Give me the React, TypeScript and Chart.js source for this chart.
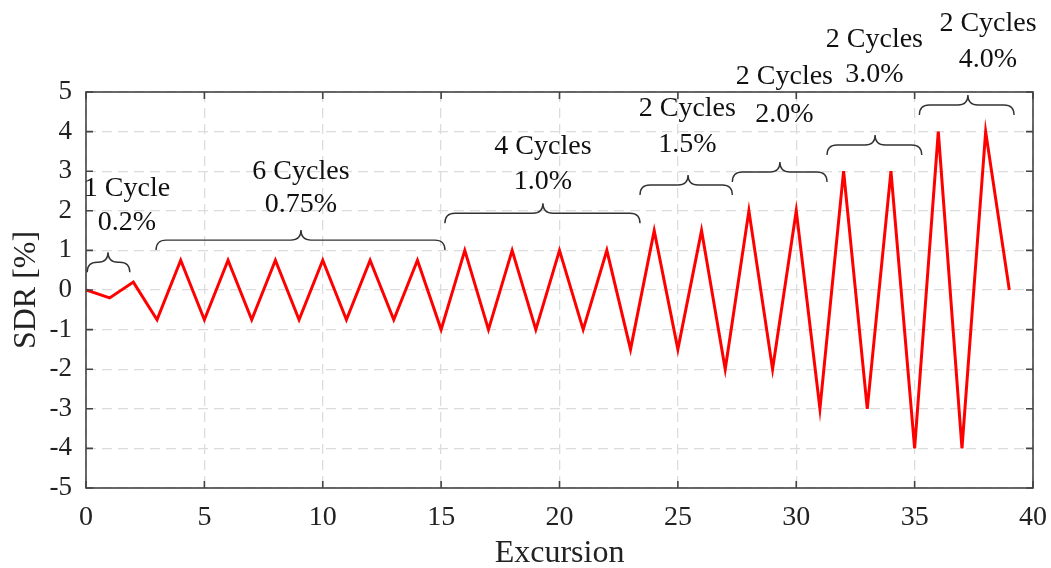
import React, { useEffect, useRef } from "react";
import { Chart, registerables } from "chart.js";

Chart.register(...registerables);

// ---- data ----
const excursion = [
  0, 1, 2, 3, 4, 5, 6, 7, 8, 9, 10, 11, 12, 13, 14, 15, 16, 17, 18, 19,
  20, 21, 22, 23, 24, 25, 26, 27, 28, 29, 30, 31, 32, 33, 34, 35, 36, 37, 38, 39,
];
const sdr = [
  0, -0.2, 0.2, -0.75, 0.75, -0.75, 0.75, -0.75, 0.75, -0.75, 0.75, -0.75, 0.75, -0.75, 0.75,
  -1, 1, -1, 1, -1, 1, -1, 1, -1.5, 1.5, -1.5, 1.5, -2, 2, -2, 2, -3, 3, -3, 3, -4, 4, -4, 4, 0,
];
const xTickValues = [0, 5, 10, 15, 20, 25, 30, 35, 40];
const yTickValues = [-5, -4, -3, -2, -1, 0, 1, 2, 3, 4, 5];

// brace annotations (data coordinates)
const braceStart = [0.05, 2.96, 15.16, 23.4, 27.3, 31.3, 35.2];
const braceEnd = [1.85, 15.16, 23.4, 27.3, 31.3, 35.3, 39.2];
const braceTip = [0.93, 9.08, 19.3, 25.43, 29.31, 33.33, 37.25];
const braceLevel = [0.7, 1.26, 1.94, 2.65, 2.98, 3.66, 4.67];
const labelTop = ["1 Cycle", "6 Cycles", "4 Cycles", "2 Cycles", "2 Cycles", "2 Cycles", "2 Cycles"];
const labelBottom = ["0.2%", "0.75%", "1.0%", "1.5%", "2.0%", "3.0%", "4.0%"];
const labelX = [1.73, 9.08, 19.3, 25.4, 29.5, 33.3, 38.1];
const labelYTop = [2.55, 2.98, 3.61, 4.57, 5.38, 6.31, 6.72];
const labelYBottom = [1.69, 2.15, 2.73, 3.66, 4.42, 5.43, 5.81];

const FONT = "'Liberation Serif', 'Times New Roman', serif";

function drawBrace(ctx: CanvasRenderingContext2D, x1: number, x2: number, xm: number, y: number, h: number) {
  const r = Math.min(h, (xm - x1) / 2, (x2 - xm) / 2);
  ctx.beginPath();
  ctx.moveTo(x1, y + h);
  ctx.quadraticCurveTo(x1, y, x1 + r, y);
  ctx.lineTo(xm - r, y);
  ctx.quadraticCurveTo(xm, y, xm, y - h);
  ctx.quadraticCurveTo(xm, y, xm + r, y);
  ctx.lineTo(x2 - r, y);
  ctx.quadraticCurveTo(x2, y, x2, y + h);
  ctx.stroke();
}

const overlayPlugin = {
  id: "overlay",
  afterDraw(chart: any) {
    const { ctx, chartArea: a, scales } = chart;
    const xs = scales.x;
    const ys = scales.y;
    ctx.save();
    // frame
    ctx.strokeStyle = "#444";
    ctx.lineWidth = 1.6;
    ctx.strokeRect(a.left, a.top, a.right - a.left, a.bottom - a.top);
    // inward ticks
    const tl = 7;
    ctx.beginPath();
    xTickValues.forEach((v) => {
      const px = xs.getPixelForValue(v);
      ctx.moveTo(px, a.bottom);
      ctx.lineTo(px, a.bottom - tl);
      ctx.moveTo(px, a.top);
      ctx.lineTo(px, a.top + tl);
    });
    yTickValues.forEach((v) => {
      const py = ys.getPixelForValue(v);
      ctx.moveTo(a.left, py);
      ctx.lineTo(a.left + tl, py);
      ctx.moveTo(a.right, py);
      ctx.lineTo(a.right - tl, py);
    });
    ctx.stroke();

    // braces
    ctx.strokeStyle = "#333";
    ctx.lineWidth = 1.4;
    for (let i = 0; i < braceStart.length; i++) {
      drawBrace(
        ctx,
        xs.getPixelForValue(braceStart[i]),
        xs.getPixelForValue(braceEnd[i]),
        xs.getPixelForValue(braceTip[i]),
        ys.getPixelForValue(braceLevel[i]),
        10
      );
    }
    // labels
    ctx.fillStyle = "#111";
    ctx.font = `28px ${FONT}`;
    ctx.textAlign = "center";
    ctx.textBaseline = "middle";
    for (let i = 0; i < labelTop.length; i++) {
      const px = xs.getPixelForValue(labelX[i]);
      ctx.fillText(labelTop[i], px, ys.getPixelForValue(labelYTop[i]));
      ctx.fillText(labelBottom[i], px, ys.getPixelForValue(labelYBottom[i]));
    }
    ctx.restore();
  },
};

export default function App() {
  const ref = useRef<HTMLCanvasElement | null>(null);
  useEffect(() => {
    if (!ref.current) return;
    const chart = new Chart(ref.current, {
      type: "line",
      data: {
        datasets: [
          {
            data: excursion.map((x, i) => ({ x, y: sdr[i] })),
            borderColor: "#ff0000",
            borderWidth: 3,
            pointRadius: 0,
            tension: 0,
            fill: false,
          },
        ],
      },
      options: {
        animation: false,
        responsive: true,
        maintainAspectRatio: false,
        layout: { padding: { top: 92, right: 18, left: 0, bottom: 0 } },
        plugins: { legend: { display: false }, tooltip: { enabled: false } },
        scales: {
          x: {
            type: "linear",
            min: 0,
            max: 40,
            afterFit: (s: any) => {
              s.height = 80;
              s.paddingLeft = 0;
              s.paddingRight = 0;
            },
            ticks: {
              stepSize: 5,
              color: "#222",
              font: { family: FONT, size: 28 },
              padding: 13,
              maxRotation: 0,
            },
            grid: { color: "#dcdcdc", lineWidth: 1.3, drawTicks: false },
            border: { display: false, dash: [10, 6] },
            title: {
              display: true,
              text: "Excursion",
              color: "#222",
              font: { family: FONT, size: 32, lineHeight: 0.9 },
              padding: { top: 0, bottom: 0 },
            },
          },
          y: {
            type: "linear",
            min: -5,
            max: 5,
            afterFit: (s: any) => {
              s.width = 86;
              s.paddingTop = 0;
              s.paddingBottom = 0;
            },
            ticks: {
              stepSize: 1,
              color: "#222",
              font: { family: FONT, size: 27 },
              padding: 14,
            },
            grid: { color: "#dcdcdc", lineWidth: 1.3, drawTicks: false },
            border: { display: false, dash: [10, 6] },
            title: {
              display: true,
              text: "SDR [%]",
              color: "#222",
              font: { family: FONT, size: 32, lineHeight: 0.9 },
              padding: { top: 12, bottom: 0 },
            },
          },
        },
      },
      plugins: [overlayPlugin],
    } as any);
    return () => chart.destroy();
  }, []);
  return (
    <div style={{ position: "absolute", left: 0, top: 0, width: 1051, height: 568, background: "#fff" }}>
      <canvas ref={ref} />
    </div>
  );
}
